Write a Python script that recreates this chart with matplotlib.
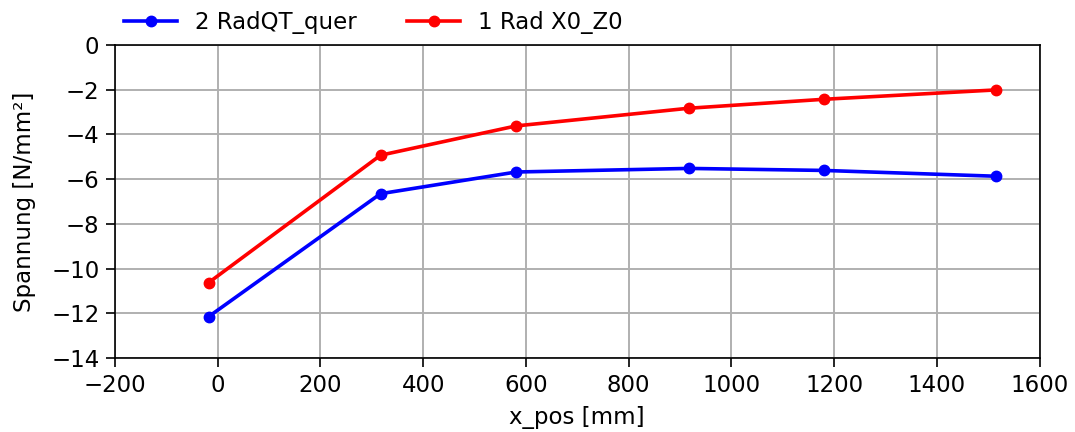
import numpy as np
from matplotlib import pyplot as plt

x_pos = [-18, 317, 581, 917, 1180, 1516]
rad_qt_quer = [-12.15, -6.65, -5.68, -5.52, -5.61, -5.87]
rad_x0_z0 = [-10.63, -4.93, -3.62, -2.83, -2.43, -2.01]

plt.rcParams['font.size'] = 16.5
plt.rcParams['axes.linewidth'] = 1.2
plt.rcParams['xtick.major.size'] = 6.2
plt.rcParams['ytick.major.size'] = 6.2
plt.rcParams['xtick.major.width'] = 1.2
plt.rcParams['ytick.major.width'] = 1.2
plt.rcParams['xtick.major.pad'] = 5
plt.rcParams['ytick.major.pad'] = 5

fig = plt.figure(figsize=(10.75, 4.32), dpi=100)
ax = fig.add_axes([0.107, 0.171, 0.86, 0.725])
ax.plot(x_pos, rad_qt_quer, '-o', color='blue', lw=2.6, ms=7.5, label='2 RadQT_quer')
ax.plot(x_pos, rad_x0_z0, '-o', color='red', lw=2.6, ms=7.5, label='1 Rad X0_Z0')
ax.set_xlim(-200, 1600)
ax.set_ylim(-14, 0)
ax.set_xticks(np.arange(-200, 1601, 200))
ax.set_yticks(np.arange(-14, 1, 2))
ax.grid(True, color='#b0b0b0', lw=1.4)
ax.set_axisbelow(True)
ax.set_xlabel('x_pos [mm]', labelpad=7)
ax.set_ylabel('Spannung [N/mm²]', labelpad=11)
ax.legend(loc='lower left', bbox_to_anchor=(-0.005, 0.99), ncol=2, frameon=False,
          handlelength=2.3, columnspacing=2.2, borderaxespad=0.2)

fig.savefig('out.png', dpi=100)
